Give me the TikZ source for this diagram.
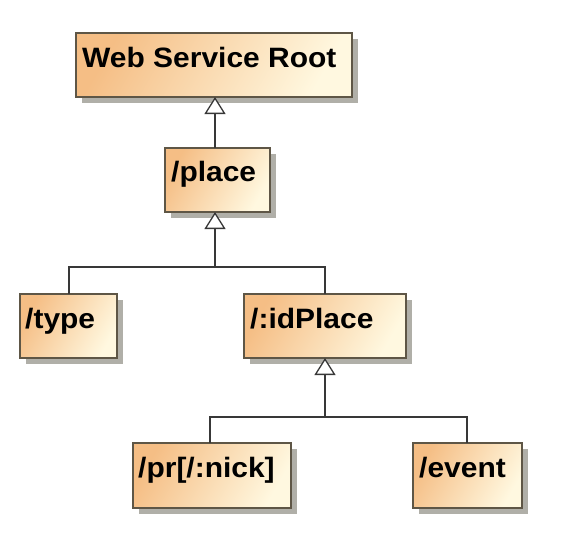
\documentclass[tikz,border=0pt]{standalone}
\usepackage{fontspec}
\setmainfont{Liberation Sans}
\usetikzlibrary{arrows.meta}
\definecolor{boxdark}{HTML}{F5BE85}
\definecolor{boxlight}{HTML}{FFF8E0}
\definecolor{boxline}{HTML}{5E5646}
\definecolor{linecol}{HTML}{383838}
\definecolor{shadowcol}{HTML}{B0AFA8}
\begin{document}
\begin{tikzpicture}[x=1pt,y=-1pt,
  cls/.style={draw=boxline, line width=1.3pt, shading=axis, left color=boxdark, right color=boxlight, shading angle=60},
  shd/.style={fill=shadowcol},
  lbl/.style={anchor=base west, font=\bfseries\fontsize{28}{30}\selectfont, inner sep=0pt, xscale=1.07},
  gen/.style={draw=linecol, line width=1.5pt, -{Triangle[open, width=21pt, length=17pt, fill=white, line width=1.3pt]}},
  link/.style={draw=linecol, line width=1.5pt}]
\useasboundingbox (0,0) rectangle (562,550);
% shadows
\foreach \a/\b/\c/\d in {76/33/352/97, 165/148/270/212, 20/294/117/358, 244/294/406/358, 133/443/291/508, 413/443/522/508}
  \path[shd] (\a+6,\b+6) rectangle (\c+6,\d+6);
% boxes
\path[cls] (76,33) rectangle (352,97);
\path[cls] (165,148) rectangle (270,212);
\path[cls] (20,294) rectangle (117,358);
\path[cls] (244,294) rectangle (406,358);
\path[cls] (133,443) rectangle (291,508);
\path[cls] (413,443) rectangle (522,508);
% node anchors
\coordinate (root) at (215,97);
\coordinate (placeT) at (215,148);
\coordinate (placeB) at (215,212);
\coordinate (typeT) at (69,294);
\coordinate (idT) at (325,294);
\coordinate (idB) at (325,358);
\coordinate (prT) at (210,443);
\coordinate (evT) at (467,443);
% labels
\node[lbl] (t1) at (82,67) {Web Service Root};
\node[lbl] (t2) at (171,181) {/place};
\node[lbl] (t3) at (25,328) {/type};
\node[lbl] (t4) at (250,328) {/:idPlace};
\node[lbl] (t5) at (138,477) {/pr[/:nick]};
\node[lbl] (t6) at (419,477) {/event};
% connectors
\draw[gen] (placeT) -- (root);
\draw[gen] (idT) -- (325,267) -| (placeB);
\draw[link] (typeT) |- (215,267);
\draw[gen] (prT) |- (325,417) -- (idB);
\draw[link] (evT) |- (325,417);
\end{tikzpicture}
\end{document}
